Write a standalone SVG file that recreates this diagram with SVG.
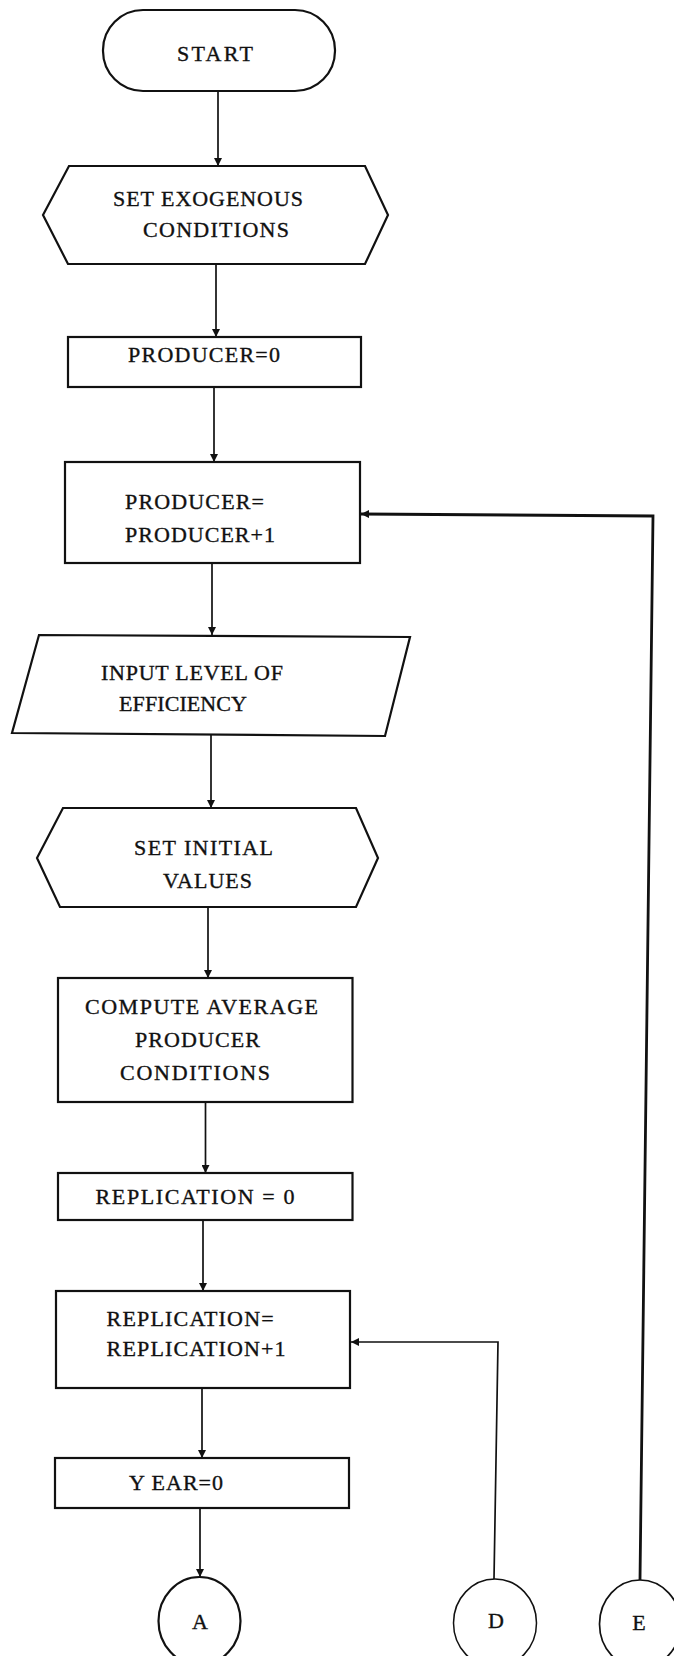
<svg xmlns="http://www.w3.org/2000/svg" width="674" height="1656" viewBox="0 0 674 1656">
  <defs>
    <style>
      .shape { fill: #ffffff; stroke: #111111; stroke-width: 2.2; stroke-linejoin: miter; }
      .conn { fill: none; stroke: #111111; stroke-width: 1.7; }
      .loopE { fill: none; stroke: #111111; stroke-width: 2.8; }
      .lbl { font-family: "Liberation Serif", "Times New Roman", serif; font-size: 22px; fill: #111111; stroke: #111111; stroke-width: 0.35; }
      .ctr { text-anchor: middle; }
    </style>
    <marker id="arrow" markerUnits="userSpaceOnUse" viewBox="0 0 8 8" refX="8" refY="4" markerWidth="8" markerHeight="8" orient="auto">
      <path d="M0,0 L8,4 L0,8 z" fill="#111111"/>
    </marker>
  </defs>

  <rect width="674" height="1656" fill="#ffffff"/>

  <!-- connectors -->
  <g id="connectors">
    <line class="conn" x1="218" y1="91" x2="218" y2="166" marker-end="url(#arrow)"/>
    <line class="conn" x1="216" y1="264" x2="216" y2="337" marker-end="url(#arrow)"/>
    <line class="conn" x1="214" y1="387" x2="214" y2="462" marker-end="url(#arrow)"/>
    <line class="conn" x1="212" y1="563" x2="212" y2="635" marker-end="url(#arrow)"/>
    <line class="conn" x1="211" y1="735" x2="211" y2="808" marker-end="url(#arrow)"/>
    <line class="conn" x1="208" y1="907" x2="208" y2="978" marker-end="url(#arrow)"/>
    <line class="conn" x1="205.5" y1="1102" x2="205.5" y2="1173" marker-end="url(#arrow)"/>
    <line class="conn" x1="203" y1="1220" x2="203" y2="1291" marker-end="url(#arrow)"/>
    <line class="conn" x1="202" y1="1388" x2="202" y2="1458" marker-end="url(#arrow)"/>
    <line class="conn" x1="200" y1="1508" x2="200" y2="1577" marker-end="url(#arrow)"/>
    <!-- return from connector D to REPLICATION increment -->
    <polyline class="conn" points="494,1579 498,1342 351,1342" marker-end="url(#arrow)"/>
    <!-- return from connector E to PRODUCER increment -->
    <polyline class="loopE" points="640,1580 653,516 361,514" marker-end="url(#arrow)"/>
  </g>

  <g id="start">
    <rect class="shape" x="103" y="10" width="232" height="81" rx="40" ry="40"/>
    <text class="lbl" x="177" y="61" textLength="76" lengthAdjust="spacing">START</text>
  </g>

  <g id="set-exogenous">
    <polygon class="shape" points="69,166 365,166 388,215 365,264 68,264 43,215"/>
    <text class="lbl" x="113" y="206" textLength="190" lengthAdjust="spacing">SET EXOGENOUS</text>
    <text class="lbl" x="143" y="237" textLength="146" lengthAdjust="spacing">CONDITIONS</text>
  </g>

  <g id="producer-zero">
    <rect class="shape" x="68" y="337" width="293" height="50"/>
    <text class="lbl" x="128" y="362" textLength="152" lengthAdjust="spacing">PRODUCER=0</text>
  </g>

  <g id="producer-increment">
    <rect class="shape" x="65" y="462" width="295" height="101"/>
    <text class="lbl" x="125" y="509" textLength="139" lengthAdjust="spacing">PRODUCER=</text>
    <text class="lbl" x="125" y="542" textLength="150" lengthAdjust="spacing">PRODUCER+1</text>
  </g>

  <g id="input-efficiency">
    <polygon class="shape" points="39,635 410,637 385,736 12,733"/>
    <text class="lbl" x="101" y="680" textLength="182" lengthAdjust="spacing">INPUT LEVEL OF</text>
    <text class="lbl" x="119" y="711" textLength="128" lengthAdjust="spacing">EFFICIENCY</text>
  </g>

  <g id="set-initial">
    <polygon class="shape" points="63,808 356,808 378,858 356,907 60,907 37,858"/>
    <text class="lbl" x="134" y="855" textLength="139" lengthAdjust="spacing">SET INITIAL</text>
    <text class="lbl" x="163" y="888" textLength="89" lengthAdjust="spacing">VALUES</text>
  </g>

  <g id="compute-average">
    <rect class="shape" x="58" y="978" width="294.5" height="124"/>
    <text class="lbl" x="85" y="1014" textLength="233" lengthAdjust="spacing">COMPUTE AVERAGE</text>
    <text class="lbl" x="135" y="1047" textLength="125" lengthAdjust="spacing">PRODUCER</text>
    <text class="lbl" x="120" y="1080" textLength="150" lengthAdjust="spacing">CONDITIONS</text>
  </g>

  <g id="replication-zero">
    <rect class="shape" x="58" y="1173" width="294.5" height="47"/>
    <text class="lbl" x="95.5" y="1204" textLength="199" lengthAdjust="spacing">REPLICATION = 0</text>
  </g>

  <g id="replication-increment">
    <rect class="shape" x="56" y="1291" width="294" height="97"/>
    <text class="lbl" x="106.6" y="1326" textLength="167" lengthAdjust="spacing">REPLICATION=</text>
    <text class="lbl" x="106.6" y="1356" textLength="179" lengthAdjust="spacing">REPLICATION+1</text>
  </g>

  <g id="year-zero">
    <rect class="shape" x="55" y="1458" width="294" height="50"/>
    <text class="lbl" x="129" y="1490" textLength="94" lengthAdjust="spacing">Y EAR=0</text>
  </g>

  <g id="connector-a">
    <ellipse class="shape" cx="199.5" cy="1621" rx="41" ry="44"/>
    <text class="lbl ctr" x="200" y="1629">A</text>
  </g>

  <g id="connector-d">
    <ellipse class="shape" cx="495" cy="1623" rx="41.5" ry="44" style="stroke-width:1.5"/>
    <text class="lbl ctr" x="496" y="1628">D</text>
  </g>

  <g id="connector-e">
    <ellipse class="shape" cx="640" cy="1624" rx="40.5" ry="44" style="stroke-width:1.7"/>
    <text class="lbl ctr" x="639" y="1630">E</text>
  </g>
</svg>
